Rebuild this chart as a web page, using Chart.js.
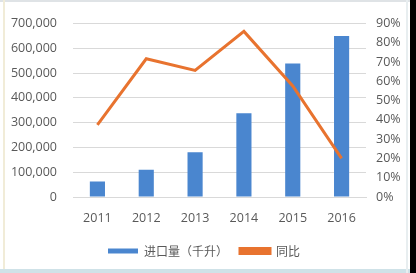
<!DOCTYPE html>
<html>
<head>
<meta charset="utf-8">
<script src="https://cdn.jsdelivr.net/npm/chart.js@4"></script>
<style>
  html, body { margin: 0; padding: 0; background: #fff; }
  #wrap { position: relative; width: 416px; height: 273px; overflow: hidden; }
  #wrap canvas { position: absolute; left: 0; top: 0; }
  .edge { position: absolute; }
</style>
</head>
<body>
<div id="wrap">
  <canvas id="c" width="416" height="273"></canvas>
  <div class="edge" style="left:0;top:0;width:416px;height:2px;background:#dfe3e6"></div>
  <div class="edge" style="left:3px;top:0;width:2px;height:273px;background:#f1ecd8"></div>
  <div class="edge" style="left:0;top:269px;width:416px;height:4px;background:#cfe2e8"></div>
  <div class="edge" style="left:406px;top:0;width:2px;height:273px;background:#e8eef0"></div>
  <div class="edge" style="left:410px;top:0;width:6px;height:273px;background:#000"></div>
</div>
<script>
const years = ["2011", "2012", "2013", "2014", "2015", "2016"];
const imports = [63000, 110000, 181000, 338000, 539000, 650000];
const yoy = [0.374, 0.717, 0.657, 0.859, 0.576, 0.20];

const textColor = "#595959";
const font = { family: "'Open Sans', 'Noto Sans CJK SC', sans-serif", size: 12.5 };

new Chart(document.getElementById("c"), {
  data: {
    labels: years,
    datasets: [
      {
        type: "line",
        label: "同比",
        data: yoy,
        yAxisID: "y2",
        borderColor: "#E8732F",
        backgroundColor: "#E8732F",
        borderWidth: 3,
        pointRadius: 0,
        tension: 0,
        order: 0
      },
      {
        type: "bar",
        label: "进口量（千升）",
        data: imports,
        yAxisID: "y",
        backgroundColor: "#4A86CF",
        categoryPercentage: 1,
        barPercentage: 0.31,
        order: 1
      }
    ]
  },
  options: {
    responsive: false,
    animation: false,
    layout: { padding: { left: 6, right: 14, top: 12, bottom: 6 } },
    plugins: {
      legend: {
        position: "bottom",
        reverse: true,
        labels: {
          color: textColor,
          font: { family: "'Noto Sans CJK SC', sans-serif", size: 12 },
          boxWidth: 30,
          boxHeight: 5,
          padding: 12
        }
      },
      tooltip: { enabled: false }
    },
    scales: {
      x: {
        grid: { display: false, drawTicks: false },
        border: { color: "#d9d9d9" },
        afterFit: s => { s.height -= 7; },
        ticks: { color: textColor, font, padding: 14 }
      },
      y: {
        position: "left",
        min: 0,
        max: 700000,
        grid: { color: "#d9d9d9", drawTicks: false },
        border: { display: false },
        afterFit: s => { s.width = 67; },
        ticks: {
          stepSize: 100000,
          autoSkip: false,
          color: textColor,
          font,
          padding: 16,
          callback: v => v.toLocaleString("en-US")
        }
      },
      y2: {
        position: "right",
        min: 0,
        max: 0.9,
        grid: { display: false, drawTicks: false },
        border: { display: false },
        afterFit: s => { s.width = 36; },
        ticks: {
          stepSize: 0.1,
          autoSkip: false,
          color: textColor,
          font,
          padding: 10,
          callback: v => Math.round(v * 100) + "%"
        }
      }
    }
  }
});
</script>
</body>
</html>
